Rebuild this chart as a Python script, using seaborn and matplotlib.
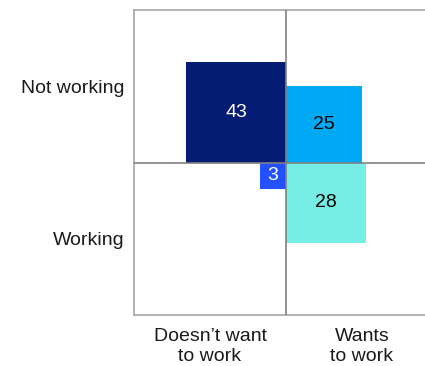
import numpy as np
import matplotlib
matplotlib.use("Agg")
import matplotlib.pyplot as plt
import seaborn as sns
from matplotlib.patches import Rectangle

# Data: share of respondents by work status (rows) and desire to work (columns)
rows = ["Not working", "Working"]
cols = ["Doesn\u2019t want\nto work", "Wants\nto work"]
values = [[43, 25],
          [3, 28]]
box_colors = [["#051C75", "#00A9F4"],
              ["#2251FF", "#76EEE6"]]
text_colors = [["white", "black"],
               ["white", "black"]]

sns.set_theme(style="white")
plt.rcParams['font.family'] = ['Liberation Sans', 'DejaVu Sans']

fig = plt.figure(figsize=(4.25, 3.66), dpi=100)
ax = fig.add_axes([134 / 425, 51 / 366, 304 / 425, 305 / 366])
ax.set_xlim(-1, 1)
ax.set_ylim(-1, 1)

# squares sized by area, anchored on the centre point (value 100 fills a quadrant)
for i, row in enumerate(rows):
    for j, col in enumerate(cols):
        v = values[i][j]
        s = np.sqrt(v / 100)
        x0 = -s if j == 0 else 0
        y0 = 0 if i == 0 else -s
        ax.add_patch(Rectangle((x0, y0), s, s, facecolor=box_colors[i][j],
                               edgecolor="none", zorder=2))
        ax.text(x0 + s / 2, y0 + s / 2, str(v), ha="center", va="center",
                color=text_colors[i][j], fontsize=14, zorder=3)

ax.axvline(0, color="#808080", lw=1.2, zorder=4)
ax.axhline(0, color="#808080", lw=1.2, zorder=4)
for side in ax.spines.values():
    side.set_color("#a6a6a6")
    side.set_linewidth(1.2)

ax.set_xticks([-0.5, 0.5])
ax.set_xticklabels(cols, fontsize=14, color="#1a1a1a", linespacing=1.2)
ax.set_yticks([0.5, -0.5])
ax.set_yticklabels(rows, fontsize=14, color="#1a1a1a")
ax.tick_params(axis="x", length=0, pad=9.5)
ax.tick_params(axis="y", length=0, pad=6.5)

fig.savefig("out.png", dpi=100)
